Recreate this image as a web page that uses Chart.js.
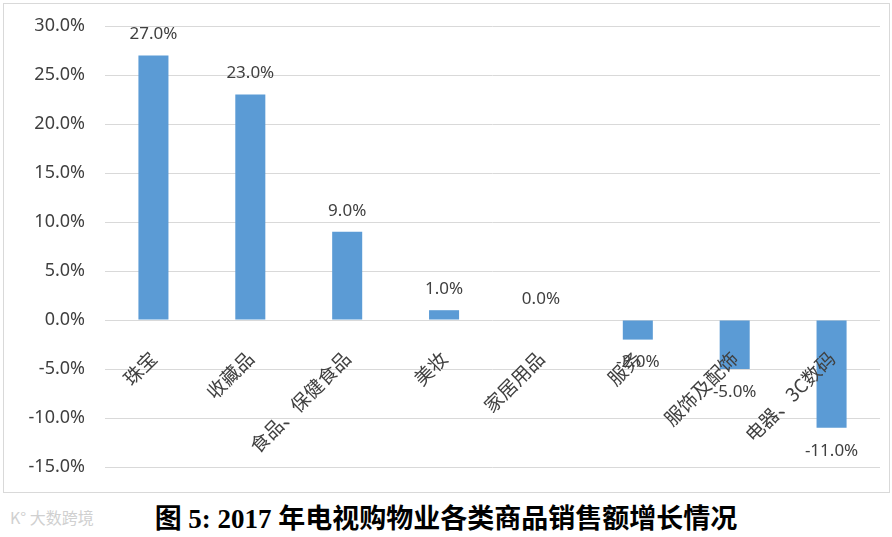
<!DOCTYPE html>
<html>
<head>
<meta charset="utf-8">
<script src="https://cdn.jsdelivr.net/npm/chart.js@4/dist/chart.umd.min.js"></script>
<style>
  body { margin: 0; background: #fff; width: 892px; height: 537px; overflow: hidden; position: relative; }
  #box { position: absolute; left: 3px; top: 3px; width: 885px; height: 488px; border: 1px solid #d9d9d9; }
  #title { position: absolute; left: 0; width: 892px; top: 497px; text-align: center;
    font: bold 27px "Liberation Serif", "Noto Sans CJK SC", serif; color: #000; }
  #mark { position: absolute; left: 10px; top: 505px; font: 16px "Noto Sans CJK SC", sans-serif; color: #d0d0d0; }
</style>
</head>
<body>
<div id="box"><canvas id="chart-one" width="885" height="488"></canvas></div>
<div id="mark">K° 大数跨境</div>
<div id="title">图 5: 2017 年电视购物业各类商品销售额增长情况</div>
<script>
// categories + growth values (percent)
const categories = ["珠宝", "收藏品", "食品、保健食品", "美妆", "家居用品", "服务", "服饰及配饰", "电器、3C数码"];
const growth = [27, 23, 9, 1, 0, -2, -5, -11];
// y axis range
const yMin = -15;
const yMax = 30;
const yStep = 5;

// value labels above / below each bar (drawn last, on top of everything)
const barLabels = {
  id: "barLabels",
  afterDraw(chart) {
    const ctx = chart.ctx;
    const meta = chart.getDatasetMeta(0);
    ctx.save();
    ctx.font = "17px 'Noto Sans', sans-serif";
    ctx.fillStyle = "#404040";
    ctx.textAlign = "center";
    ctx.textBaseline = "middle";
    meta.data.forEach((bar, i) => {
      const v = growth[i];
      const y = v < 0 ? bar.y + 23 : bar.y - 21;
      ctx.fillText(v.toFixed(1) + "%", bar.x, y);
    });
    ctx.restore();
  },
};

const data = {
  labels: categories,
  datasets: [
    {
      label: "增长率",
      data: growth,
      backgroundColor: "#5b9bd5",
      borderWidth: 0,
      categoryPercentage: 1,
      barPercentage: 0.31,
    },
  ],
};

const config = {
  type: "bar",
  data,
  options: {
    responsive: false,
    maintainAspectRatio: false,
    animation: false,
    layout: { padding: { top: 22, right: 9, bottom: 25, left: 0 } },
    scales: {
      x: {
        position: { y: 0 },
        afterFit: (scale) => { scale.height = 0; },
        grid: { display: false },
        border: { display: false },
        ticks: {
          z: 1, // labels drawn on top of the bars
          autoSkip: false,
          minRotation: 45,
          maxRotation: 45,
          padding: 19,
          color: "#404040",
          font: { family: "'Noto Sans CJK SC', sans-serif", size: 19 },
        },
      },
      y: {
        min: yMin,
        max: yMax,
        afterFit: (scale) => {
          // keep the plot area fixed, ignore tick padding
          scale.width = 101;
          scale.paddingTop = 0;
          scale.paddingBottom = 0;
        },
        grid: { color: "#d9d9d9", drawTicks: false },
        border: { display: false },
        ticks: {
          stepSize: yStep,
          padding: 20,
          color: "#404040",
          font: { family: "'Noto Sans', sans-serif", size: 18 },
          callback: (v) => v.toFixed(1) + "%",
        },
      },
    },
    plugins: {
      legend: { display: false },
      tooltip: { enabled: false },
    },
  },
  plugins: [barLabels],
};

const growthChart = new Chart(document.getElementById("chart-one"), config);
</script>
</body>
</html>
